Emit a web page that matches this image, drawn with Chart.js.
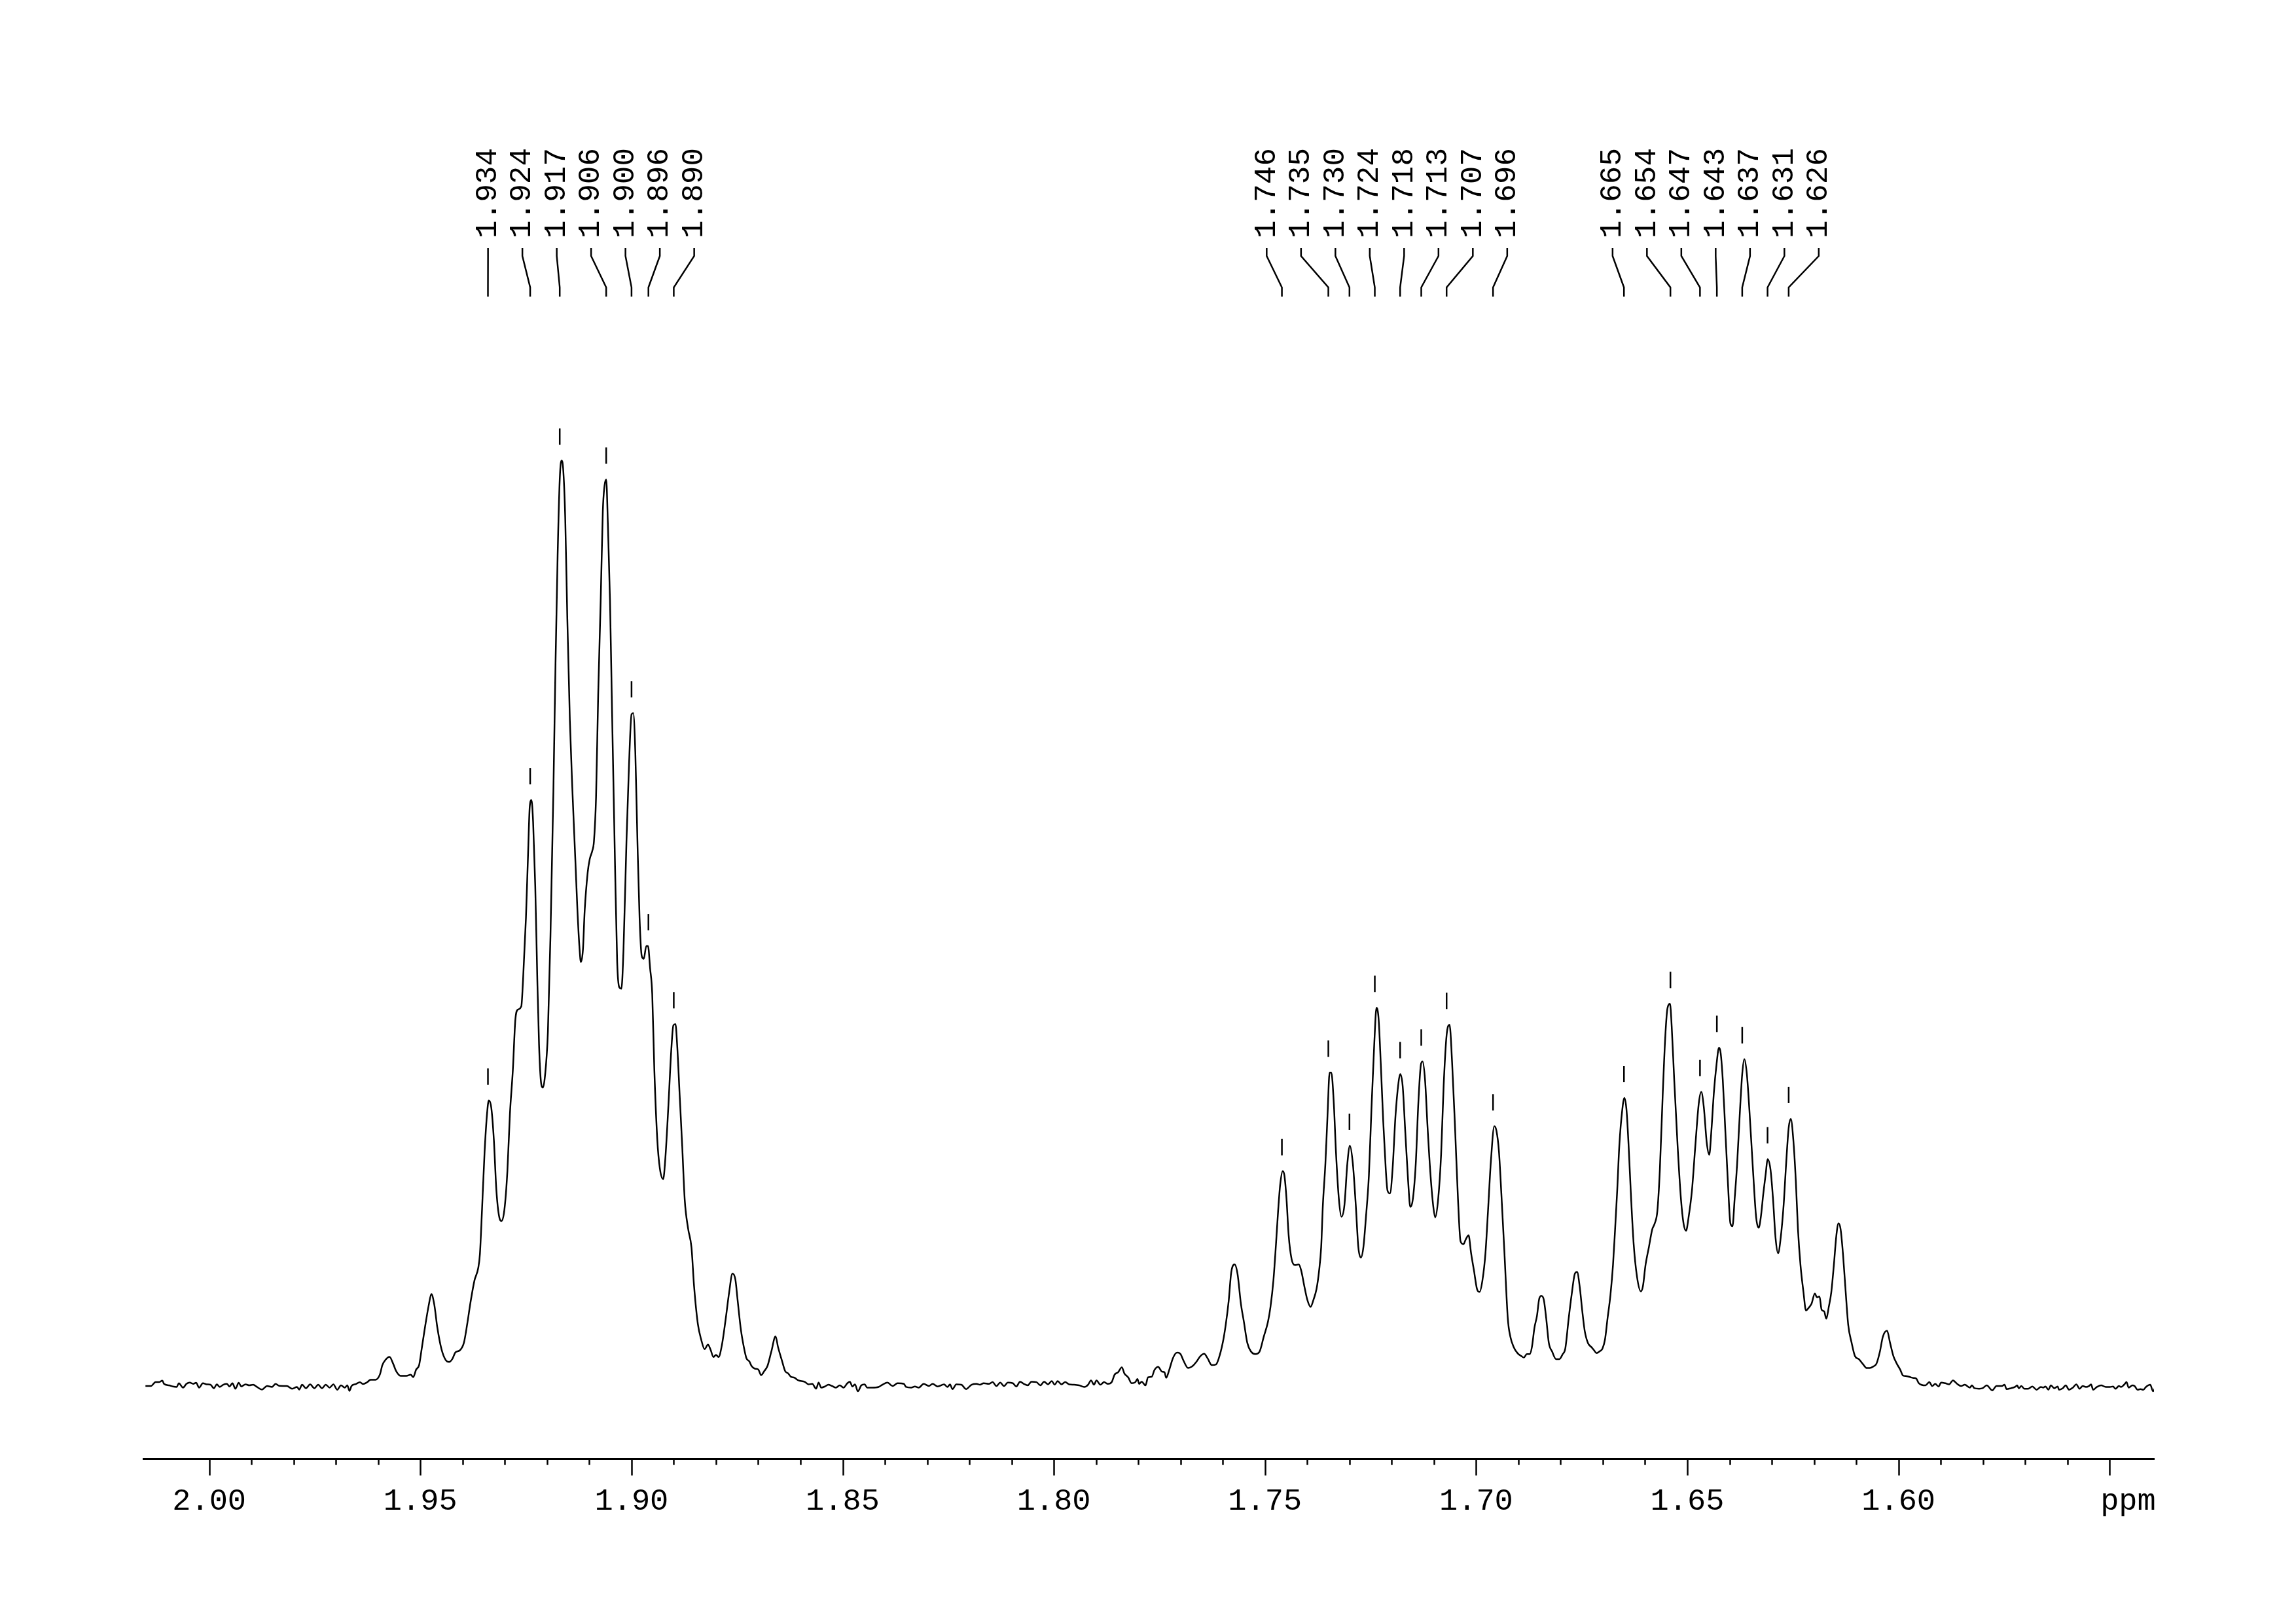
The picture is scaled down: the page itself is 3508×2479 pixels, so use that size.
<!DOCTYPE html>
<html>
<head>
<meta charset="utf-8">
<script src="https://cdn.jsdelivr.net/npm/chart.js@4.4.1/dist/chart.umd.min.js"></script>
<style>
  html, body { margin: 0; padding: 0; background: #fff; }
  canvas { display: block; }
</style>
</head>
<body>
<canvas id="spectrum" width="3508" height="2479"></canvas>
<script>
// chemical shift (ppm) and intensity (tallest peak = 100)
var shift = [
  2.0151, 2.0138, 2.0127, 2.0119, 2.0111, 2.0107, 2.0095, 2.0086, 2.0077, 2.0072, 2.0062, 2.0054,
  2.0046, 2.0038, 2.0031, 2.0024, 2.0015, 2.0006, 1.9997, 1.9989, 1.9982, 1.9975, 1.9967, 1.9958,
  1.9952, 1.9945, 1.9938, 1.9930, 1.9924, 1.9914, 1.9905, 1.9896, 1.9887, 1.9875, 1.9863, 1.9851,
  1.9843, 1.9834, 1.9816, 1.9804, 1.9792, 1.9787, 1.9780, 1.9771, 1.9761, 1.9751, 1.9742, 1.9733,
  1.9724, 1.9715, 1.9706, 1.9697, 1.9688, 1.9679, 1.9673, 1.9668,
  1.9663, 1.9653, 1.9643, 1.9636, 1.9626, 1.9618, 1.9606, 1.9596, 1.9590, 1.9583, 1.9573, 1.9565,
  1.9557, 1.9547, 1.9533, 1.9523, 1.9517, 1.9510, 1.9503, 1.9497, 1.9489, 1.9480, 1.9474, 1.9467,
  1.9460, 1.9450, 1.9440, 1.9432, 1.9424, 1.9417, 1.9407, 1.9397, 1.9389, 1.9381, 1.9372, 1.9363,
  1.9359, 1.9354, 1.9348, 1.9342, 1.9338, 1.9332, 1.9326, 1.9320, 1.9312, 1.9308, 1.9301, 1.9294,
  1.9288, 1.9281, 1.9275, 1.9269, 1.9261, 1.9257, 1.9250, 1.9245, 1.9241, 1.9237, 1.9233, 1.9228,
  1.9223, 1.9219, 1.9215, 1.9210, 1.9205, 1.9198, 1.9192, 1.9185, 1.9180, 1.9175, 1.9170, 1.9166,
  1.9162, 1.9157, 1.9152, 1.9146, 1.9140, 1.9133, 1.9128, 1.9123, 1.9120, 1.9115, 1.9111, 1.9104,
  1.9099, 1.9093, 1.9089, 1.9084, 1.9079, 1.9073, 1.9068, 1.9064, 1.9060, 1.9056, 1.9051, 1.9046,
  1.9039, 1.9034, 1.9029, 1.9024, 1.9019, 1.9012, 1.9006, 1.9000, 1.8996, 1.8991, 1.8986, 1.8981,
  1.8976, 1.8971, 1.8965, 1.8961, 1.8956, 1.8951, 1.8946, 1.8939, 1.8933, 1.8925, 1.8920, 1.8913,
  1.8906, 1.8901, 1.8896, 1.8892, 1.8886, 1.8880, 1.8874, 1.8866, 1.8858, 1.8852, 1.8843, 1.8835,
  1.8827,
  1.8819, 1.8813, 1.8806, 1.8800, 1.8794, 1.8786, 1.8777, 1.8769, 1.8761, 1.8754, 1.8749, 1.8741,
  1.8734, 1.8728, 1.8721, 1.8716, 1.8708, 1.8700, 1.8693, 1.8686, 1.8678, 1.8669, 1.8659, 1.8653,
  1.8644, 1.8636,
  1.8629, 1.8623, 1.8614, 1.8605, 1.8590, 1.8581, 1.8572, 1.8563, 1.8557, 1.8551, 1.8542, 1.8534,
  1.8525, 1.8516, 1.8507, 1.8498, 1.8489, 1.8483, 1.8477, 1.8471, 1.8464, 1.8456, 1.8448, 1.8442,
  1.8430, 1.8415, 1.8406, 1.8394, 1.8382, 1.8370, 1.8355, 1.8350, 1.8338, 1.8329, 1.8320, 1.8308,
  1.8296, 1.8287, 1.8275, 1.8260, 1.8252, 1.8246, 1.8240, 1.8231, 1.8219, 1.8208, 1.8195, 1.8183,
  1.8175, 1.8166, 1.8154, 1.8145, 1.8136, 1.8127, 1.8118, 1.8109, 1.8097, 1.8089, 1.8080, 1.8071,
  1.8062, 1.8053, 1.8041, 1.8032, 1.8023, 1.8014, 1.8005, 1.7998, 1.7991, 1.7982, 1.7973, 1.7964,
  1.7952, 1.7940, 1.7928, 1.7919, 1.7912, 1.7905, 1.7899, 1.7890, 1.7881, 1.7872, 1.7863, 1.7856,
  1.7848, 1.7839, 1.7833, 1.7824, 1.7816, 1.7807, 1.7802, 1.7798, 1.7792, 1.7783, 1.7777, 1.7768,
  1.7762, 1.7753, 1.7744, 1.7738, 1.7734, 1.7727, 1.7718, 1.7709,
  1.7706, 1.7700, 1.7693, 1.7682, 1.7673, 1.7663, 1.7653, 1.7644, 1.7636, 1.7626, 1.7616, 1.7610,
  1.7600, 1.7593, 1.7586, 1.7580, 1.7572, 1.7565, 1.7557, 1.7550, 1.7542, 1.7533, 1.7523, 1.7513,
  1.7503, 1.7493, 1.7487, 1.7480, 1.7474, 1.7469, 1.7464, 1.7458, 1.7454, 1.7449, 1.7444, 1.7437,
  1.7429, 1.7420, 1.7414, 1.7407, 1.7400, 1.7392, 1.7385, 1.7378, 1.7372, 1.7367, 1.7363, 1.7357,
  1.7352, 1.7347, 1.7343, 1.7337, 1.7332, 1.7325, 1.7319, 1.7312, 1.7305, 1.7299, 1.7292, 1.7285,
  1.7279, 1.7273, 1.7267, 1.7261, 1.7254, 1.7248, 1.7241, 1.7236, 1.7231, 1.7226, 1.7220, 1.7214,
  1.7210, 1.7204, 1.7198, 1.7191, 1.7184, 1.7180, 1.7174, 1.7168, 1.7161, 1.7156, 1.7150, 1.7143,
  1.7137, 1.7131, 1.7127, 1.7121, 1.7115, 1.7108, 1.7101, 1.7097, 1.7090, 1.7083, 1.7077, 1.7070,
  1.7063, 1.7057, 1.7050, 1.7043, 1.7037, 1.7030, 1.7025, 1.7018, 1.7012, 1.7005, 1.6998, 1.6992,
  1.6985, 1.6978, 1.6972, 1.6965, 1.6957, 1.6952, 1.6946, 1.6940, 1.6933, 1.6925, 1.6919, 1.6911,
  1.6902, 1.6893, 1.6887,
  1.6880, 1.6873, 1.6868, 1.6862, 1.6856, 1.6851, 1.6846, 1.6840, 1.6834, 1.6828, 1.6820, 1.6811,
  1.6803, 1.6795, 1.6789, 1.6781, 1.6774, 1.6766, 1.6761, 1.6755, 1.6749, 1.6743, 1.6735, 1.6727,
  1.6721, 1.6715, 1.6707, 1.6701, 1.6695, 1.6689, 1.6682, 1.6676, 1.6671, 1.6666, 1.6661, 1.6654,
  1.6649, 1.6644, 1.6639, 1.6633, 1.6627, 1.6619, 1.6610, 1.6605, 1.6599, 1.6591, 1.6583, 1.6577,
  1.6571, 1.6565, 1.6558, 1.6552, 1.6547, 1.6541, 1.6537, 1.6531, 1.6523, 1.6515, 1.6509, 1.6503,
  1.6497, 1.6489, 1.6481, 1.6473, 1.6467, 1.6461, 1.6454, 1.6448, 1.6443, 1.6437, 1.6431, 1.6425,
  1.6421, 1.6416, 1.6410, 1.6404, 1.6398, 1.6393, 1.6388, 1.6382, 1.6376, 1.6370, 1.6365, 1.6359,
  1.6353, 1.6345, 1.6337, 1.6331, 1.6326, 1.6320, 1.6314, 1.6310, 1.6303, 1.6297, 1.6291, 1.6285,
  1.6279, 1.6272, 1.6266, 1.6260, 1.6255, 1.6249, 1.6243, 1.6238, 1.6232, 1.6225, 1.6219, 1.6212,
  1.6206, 1.6198, 1.6193, 1.6187, 1.6182, 1.6176, 1.6171, 1.6165, 1.6159, 1.6153, 1.6147, 1.6142,
  1.6137, 1.6131, 1.6125, 1.6119, 1.6111, 1.6103, 1.6094, 1.6085, 1.6075, 1.6068, 1.6060, 1.6052,
  1.6044, 1.6037, 1.6027, 1.6020, 1.6012, 1.6004, 1.5996, 1.5989, 1.5981, 1.5973, 1.5965, 1.5958,
  1.5952,
  1.5936, 1.5927, 1.5920, 1.5913, 1.5905, 1.5899, 1.5889, 1.5880, 1.5871, 1.5861, 1.5852, 1.5843,
  1.5831, 1.5826, 1.5820, 1.5809, 1.5801, 1.5791, 1.5778, 1.5768, 1.5755, 1.5749, 1.5744, 1.5734,
  1.5724, 1.5719, 1.5715, 1.5709, 1.5702, 1.5693, 1.5683, 1.5673, 1.5663, 1.5657, 1.5652, 1.5645,
  1.5639, 1.5631, 1.5623, 1.5620, 1.5611, 1.5604, 1.5596, 1.5587, 1.5579, 1.5571, 1.5564, 1.5556,
  1.5549, 1.5544, 1.5539, 1.5530, 1.5520, 1.5509, 1.5499, 1.5492, 1.5486, 1.5478, 1.5473, 1.5465,
  1.5460, 1.5455, 1.5446, 1.5441, 1.5434, 1.5427, 1.5420, 1.5414, 1.5404, 1.5397, 1.5390
];
var intensity = [
  -0.09, -0.09, 0.33, 0.33, 0.49, 0.14, -0.02, -0.14, -0.19, 0.21, -0.26, 0.14,
  0.28, 0.14, 0.26, -0.26, 0.21, 0.09, 0.05, -0.33, 0.09, -0.19, 0.05, 0.14,
  -0.14, 0.21, -0.38, 0.26, -0.14, 0.09, -0.02, 0.05, -0.19, -0.47, -0.09, -0.19,
  0.14, -0.07, -0.09, -0.38, -0.19, -0.47, 0.05, -0.33, 0.09, -0.33, 0.05, -0.33,
  0.05, -0.26, 0.09, -0.49, -0.02, -0.26, -0.02, -0.61,
  -0.09, 0.12, 0.32, 0.12, 0.32, 0.59, 0.59, 1.14, 2.17, 2.72, 3.06, 2.38,
  1.49, 1.01, 1.01, 1.14, 0.87, 1.69, 2.17, 3.89, 6.28, 8.69, 9.85, 8.69,
  6.28, 3.89, 2.72, 2.51, 2.86, 3.54, 3.75, 4.57, 6.63, 9.03, 11.29, 12.66,
  14.17, 18.97, 25.14, 29.39, 30.76, 29.94, 26.51, 21.03, 17.94, 17.74, 18.97, 23.09,
  29.26, 34.06, 39.54, 40.57, 40.92, 43.66, 50.51, 57.37, 62.51, 63.20, 60.80, 53.94,
  43.66, 36.80, 33.03, 32.14, 33.37, 38.17, 48.46, 64.23, 77.94, 89.60, 97.83, 99.88,
  99.06, 93.71, 82.74, 71.77, 64.23, 56.69, 51.20, 47.09, 45.71, 47.09, 51.20, 55.32,
  56.83, 57.71, 58.74, 63.54, 74.51, 84.80, 94.40, 97.14, 97.83, 93.03, 84.80, 72.46,
  56.00, 45.71, 42.97, 42.83, 47.09, 58.74, 66.97, 72.46, 72.59, 68.34, 58.74, 50.51,
  46.40, 46.06, 47.43, 47.43, 45.03, 42.28, 34.06, 26.51, 23.43, 22.26, 24.46, 29.94,
  36.11, 38.86, 39.00, 36.80, 31.31, 25.83, 20.00, 16.91, 14.86, 10.74, 6.63, 4.92,
  3.89,
  4.38, 3.86, 3.04, 3.27, 3.04, 4.33, 7.16, 9.98, 12.05, 11.39, 9.27, 5.98,
  4.10, 2.92, 2.57, 2.09, 1.79, 1.70, 1.08, 1.50, 2.09, 3.63, 5.27, 4.10,
  2.68, 1.50,
  1.27, 0.92, 0.80, 0.52, 0.37, 0.09, 0.14, -0.38, 0.28, -0.26, -0.14, 0.05,
  -0.09, -0.26, -0.02, -0.26, 0.21, 0.38, -0.14, 0.09, -0.66, -0.02, 0.09, -0.26,
  -0.26, -0.19, 0.05, 0.28, -0.09, 0.21, 0.14, -0.19, -0.26, -0.14, -0.26, 0.14,
  -0.09, 0.14, -0.14, 0.09, -0.19, 0.09, -0.42, 0.09, 0.05, -0.42, 0.05, 0.14,
  0.05, 0.21, 0.14, 0.33, -0.09, 0.28, -0.09, 0.28, 0.21, -0.14, 0.38, 0.14,
  -0.02, 0.38, 0.33, -0.02, 0.38, 0.09, 0.45, 0.05, 0.45, 0.09, 0.33, 0.09,
  0.05, -0.02, -0.19, 0.05, 0.52, 0.05, 0.52, 0.05, 0.33, 0.14, 0.33, 1.15,
  1.39, 1.93, 1.27, 0.85, 0.21, 0.33, 0.68, 0.14, 0.38, -0.02, 0.85, 0.92,
  1.62, 1.98, 1.46, 1.39, 0.80, 1.62, 2.92, 3.51,
  3.52, 3.36, 2.65, 1.85, 2.01, 2.49, 3.14, 3.40, 2.91, 2.17, 2.24, 2.82,
  4.59, 6.52, 9.10, 12.17, 13.04, 12.00, 8.78, 6.85, 4.59, 3.62, 3.36, 3.62,
  5.23, 6.85, 8.46, 11.36, 15.23, 18.78, 21.68, 23.13, 22.65, 20.07, 16.20, 13.62,
  12.97, 13.04, 12.33, 10.72, 9.26, 8.46, 9.26, 10.39, 12.33, 14.91, 19.42, 23.94,
  29.10, 33.77, 33.77, 30.39, 25.23, 20.07, 18.20, 19.42, 23.94, 25.87, 23.94, 19.42,
  14.91, 13.78, 14.91, 18.13, 22.65, 29.74, 37.16, 40.77, 39.58, 34.90, 28.45, 23.29,
  21.04, 20.71, 23.29, 29.10, 32.65, 33.61, 32.32, 27.49, 22.00, 19.26, 20.07, 23.94,
  30.39, 34.58, 34.97, 32.97, 27.81, 22.65, 19.10, 18.13, 20.07, 24.91, 32.32, 37.80,
  38.93, 34.90, 27.81, 20.07, 15.55, 15.23, 15.71, 16.20, 14.26, 12.33, 10.39, 10.07,
  11.36, 14.26, 18.78, 24.26, 27.97, 27.49, 25.23, 20.39, 14.26, 7.17, 5.23, 4.11,
  3.46, 3.14, 2.98,
  3.36, 3.36, 4.11, 6.20, 7.49, 9.26, 9.65, 9.26, 7.17, 4.59, 3.62, 2.82,
  2.82, 3.36, 3.94, 7.17, 9.75, 12.07, 12.23, 10.72, 8.13, 5.88, 4.52, 4.11,
  3.78, 3.46, 3.68, 3.94, 4.91, 7.17, 9.75, 12.97, 16.84, 21.04, 25.87, 29.74,
  31.03, 29.74, 25.87, 20.07, 15.23, 11.68, 10.14, 10.72, 12.97, 14.91, 16.84, 17.49,
  18.78, 23.29, 31.68, 37.80, 40.71, 41.19, 38.77, 32.97, 25.87, 20.07, 17.49, 16.68,
  18.13, 21.04, 25.87, 30.39, 31.68, 30.07, 26.20, 24.90, 27.49, 31.68, 34.58, 36.45,
  35.87, 32.97, 27.49, 22.00, 17.49, 17.17, 20.07, 23.94, 29.10, 33.61, 35.22, 33.61,
  29.74, 23.61, 18.13, 17.00, 18.13, 20.71, 22.97, 24.42, 23.29, 20.07, 15.87, 14.26,
  15.87, 19.42, 23.94, 27.81, 28.77, 26.52, 22.00, 16.84, 12.97, 10.07, 8.07, 8.39,
  8.78, 9.91, 9.49, 9.59, 8.14, 7.98, 7.17, 8.46, 10.07, 12.97, 16.20, 17.49,
  16.84, 13.94, 10.07, 6.52, 4.59, 3.14, 2.82, 2.33, 1.85, 1.85, 2.01, 2.33,
  3.62, 5.23, 5.88, 4.59, 3.14, 2.33, 1.69, 1.04, 0.98, 0.88, 0.78, 0.72,
  0.23,
  -0.02, 0.33, -0.09, 0.14, -0.14, 0.28, 0.21, 0.09, 0.52, 0.14, -0.09, 0.05,
  -0.26, -0.02, -0.33, -0.38, -0.33, -0.02, -0.56, -0.09, -0.09, 0.05, -0.42, -0.33,
  -0.19, -0.02, -0.33, -0.09, -0.38, -0.38, -0.14, -0.49, -0.19, -0.26, -0.14, -0.49,
  -0.02, -0.33, -0.14, -0.49, -0.33, -0.02, -0.49, -0.26, 0.09, -0.38, -0.09, -0.19,
  -0.09, 0.09, -0.49, -0.19, -0.02, -0.19, -0.19, -0.14, -0.38, -0.09, -0.19, 0.09,
  0.33, -0.26, -0.02, -0.09, -0.49, -0.42, -0.49, -0.19, 0.05, -0.66, 0.09
];

// picked peaks (ppm)
var peakLabels = [
  1.934, 1.924, 1.917, 1.906, 1.900, 1.896, 1.890,
  1.746, 1.735, 1.730, 1.724, 1.718, 1.713, 1.707, 1.696,
  1.665, 1.654, 1.647, 1.643, 1.637, 1.631, 1.626
];

var shiftMin = 1.5395;
var shiftMax = 2.0156;

var points = shift.map(function (s, i) {
  return { x: s, y: intensity[i] };
});

function gridStep(v) {
  var r = Math.round(v * 100);
  return Math.abs(v * 100 - r) < 1e-6 ? r : null;
}

function peakHeight(ppm) {
  var best = -Infinity;
  for (var i = 0; i < shift.length; i++) {
    if (Math.abs(shift[i] - ppm) <= 0.0012 && intensity[i] > best) best = intensity[i];
  }
  return best;
}

var peakPlugin = {
  id: "peakPlugin",
  afterDraw: function (chart) {
    var ctx = chart.ctx;
    var xs = chart.scales.x;
    var ys = chart.scales.y;
    var area = chart.chartArea;
    ctx.save();
    ctx.strokeStyle = "#000";
    ctx.fillStyle = "#000";
    ctx.lineWidth = 2.5;
    ctx.lineCap = "butt";

    // axis tick marks, long every 0.05 ppm
    xs.ticks.forEach(function (t) {
      var r = gridStep(t.value);
      if (r === null) return;
      var px = Math.round(xs.getPixelForValue(t.value)) + 0.5;
      var len = r % 5 === 0 ? 25 : 9;
      ctx.beginPath();
      ctx.moveTo(px, area.bottom);
      ctx.lineTo(px, area.bottom + len);
      ctx.stroke();
    });

    // small marks above each picked peak
    peakLabels.forEach(function (p) {
      var px = xs.getPixelForValue(p);
      var py = ys.getPixelForValue(peakHeight(p));
      ctx.beginPath();
      ctx.moveTo(px, py - 49);
      ctx.lineTo(px, py - 24);
      ctx.stroke();
    });

    // group labels that sit close together and spread them evenly
    var groups = [];
    var last = null;
    peakLabels.forEach(function (p) {
      var px = xs.getPixelForValue(p);
      if (last === null || px - last > 120) groups.push([]);
      groups[groups.length - 1].push({ ppm: p, px: px });
      last = px;
    });

    var gap = 52.5;
    ctx.font = "46px 'Liberation Mono'";
    ctx.textAlign = "left";
    ctx.textBaseline = "middle";
    groups.forEach(function (g) {
      var mean = 0;
      g.forEach(function (o) { mean += o.px; });
      mean /= g.length;
      g.forEach(function (o, i) {
        var lx = mean + (i - (g.length - 1) / 2) * gap;
        ctx.beginPath();
        ctx.moveTo(lx, 379);
        ctx.lineTo(lx, 391);
        ctx.lineTo(o.px, 439);
        ctx.lineTo(o.px, 453);
        ctx.stroke();

        ctx.save();
        ctx.translate(lx, 364);
        ctx.rotate(-Math.PI / 2);
        ctx.fillText(o.ppm.toFixed(3), 0, 0);
        ctx.restore();
      });
    });
    ctx.restore();
  }
};

var ctx = document.getElementById("spectrum").getContext("2d");

new Chart(ctx, {
  type: "line",
  data: {
    datasets: [
      {
        label: "1H",
        data: points,
        borderColor: "#000",
        borderWidth: 2.5,
        pointRadius: 0,
        fill: false,
        cubicInterpolationMode: "monotone",
      },
    ],
  },
  options: {
    responsive: false,
    animation: false,
    events: [],
    layout: {
      padding: { left: 219, right: 217, top: 480, bottom: 120 },
    },
    plugins: {
      legend: { display: false },
      tooltip: { enabled: false },
    },
    scales: {
      x: {
        type: "linear",
        reverse: true,
        min: shiftMin,
        max: shiftMax,
        grid: { display: false, drawTicks: false },
        border: { display: true, color: "#000", width: 3 },
        ticks: {
          stepSize: 0.01,
          autoSkip: false,
          maxRotation: 0,
          padding: 37,
          color: "#000",
          font: { family: "Liberation Mono", size: 47 },
          callback: function (value) {
            var r = gridStep(value);
            if (r === null || r % 5 !== 0) return "";
            if (r === 155) return "  ppm";
            return (r / 100).toFixed(2);
          },
        },
      },
      y: {
        display: false,
        min: -7.98,
        max: 115.68,
      },
    },
  },
  plugins: [peakPlugin],
});
</script>
</body>
</html>
